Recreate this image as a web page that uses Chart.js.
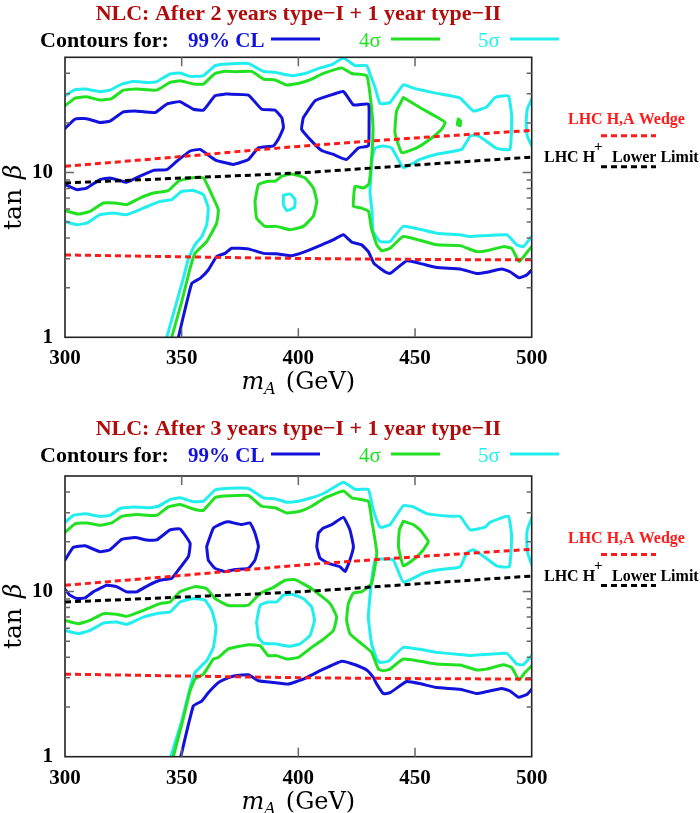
<!DOCTYPE html>
<html>
<head>
<meta charset="utf-8">
<title>NLC contours</title>
<script src="https://cdn.jsdelivr.net/npm/chart.js@4.4.0/dist/chart.umd.min.js"></script>
<style>
  html, body { margin: 0; padding: 0; background: #fff; }
  #wrap { position: relative; width: 700px; height: 813px; overflow: hidden; }
  canvas { position: absolute; left: 0; }
  #topChart { top: 0; }
  #bottomChart { top: 415px; }
</style>
</head>
<body>
<div id="wrap">
  <canvas id="topChart" width="700" height="415"></canvas>
  <canvas id="bottomChart" width="700" height="398"></canvas>
</div>
<script>
// ============================================
// NLC tan(beta) vs m_A contours
// ============================================

// ── Axes ─────────────────────────────────
const xTicks      = [300, 350, 400, 450, 500];
const yTickLabels = [1, 10];
const yMinorTicks = [2, 3, 4, 5, 6, 7, 8, 9, 20, 30, 40];

// ── LHC reference lines (dashed) ─────────
const lhcMass    = [300, 350, 400, 450, 500];
const wedgeHigh  = [10.9, 12.5, 14.4, 16.2, 18.0];
const wedgeLow   = [3.16, 3.08, 3.01, 2.97, 2.95];
const hPlusLimit = [8.64, 9.25, 9.95, 11.1, 12.4];

// ── Legend ───────────────────────────────
const legendNames = ['99% CL', '4σ', '5σ'];
const blueCL  = '#1212dc';
const green4s = '#22e022';
const cyan5s  = '#22eeee';

// ── Top panel: 2 years type-I + 1 year type-II  [mA, tanβ] ──
const top5sMain = [[300,29.2],[304.3,31.8],[308.6,32.1],[315,31.0],[319.3,31.6],[324.3,34.4],[329.3,35.6],[335,35.2],[339.3,35.6],[345,39.6],[349.3,40.2],[353.6,38.3],[359.3,38.7],[364.3,44.5],[369.3,45.6],[378.6,45.9],[385,41.1],[390,40.5],[397.2,38.7],[402.9,39.9],[410,43.4],[414.3,45.1],[419.3,49.5],[424.3,44.5],[429.3,44.5],[430.7,39.6],[432.9,32.8],[435,26.2],[439.3,26.6],[445,34.1],[449.3,32.5],[459.3,30.2],[469.3,28.3],[475,23.6],[480.7,25.0],[484.3,28.5],[490,29.2],[491.4,22.0],[490.7,13.8],[485,14.0],[480,15.7],[476.4,16.9],[473.6,16.6],[470,13.8],[459.3,12.9],[452.1,12.0],[445,10.7],[440,14.1],[436.4,14.5],[432.9,14.1],[431.6,12.1],[430.7,7.6],[431.6,5.8],[432,4.39],[435,3.81],[439.3,3.81],[445,4.71],[459.3,4.28],[469.3,4.19],[473.6,4.09],[489.3,4.19],[493.6,3.64],[496.4,3.55],[500,4.09]];
const top5sLeft = [[300,5.05],[305,4.82],[309.3,4.93],[315,5.55],[320.7,5.67],[326.4,5.55],[333.6,6.08],[340.7,6.68],[345.7,6.84],[350,7.69],[355,7.77],[359.3,7.34],[361.4,6.08],[360.7,4.82],[358.6,4.09],[355.7,3.64],[352.9,3.01],[350.7,2.28],[343.6,1.0]];
const top5sDot   = [[393.6,7.27],[396.4,7.41],[398.6,6.84],[398.3,6.14],[395,5.87],[393.6,6.38],[393.6,7.27]];
const top5sEdge  = [[500,27.9],[498.1,24.2],[497.6,20.1],[498.1,16.6],[500,14.5]];

const top4sMain = [[300,25.4],[304.3,28.3],[309.3,28.8],[315,27.5],[320,28.1],[325,31.6],[330.7,32.1],[339.3,31.6],[345,35.2],[349.3,36.0],[355,34.4],[359.3,34.4],[364.3,39.9],[368.6,41.1],[372.9,40.9],[380,41.1],[385,36.9],[390,36.4],[395,33.9],[400.7,34.9],[405.7,36.9],[410.7,39.9],[418.6,43.1],[422.9,39.9],[429.3,38.7],[430.7,29.9],[432,18.7],[431.3,11.7],[430.2,8.5],[427.9,8.05],[424.3,8.25],[423.6,6.23],[427.1,6.08],[430.1,5.8],[431.3,4.59],[433.6,3.64],[435.7,3.35],[439.3,3.47],[445,4.09],[459.3,3.64],[469.3,3.60],[476.4,3.31],[480.7,3.35],[487.9,3.55],[491.4,3.47],[494.6,2.88],[497.1,3.16],[500,3.55]];
const top4sLeft = [[300,5.87],[305.7,5.59],[310.7,5.81],[316.4,6.53],[321.4,6.53],[326.4,6.38],[332.1,7.0],[337.9,7.51],[344.3,7.77],[348.6,8.85],[353.6,9.27],[359.3,9.27],[362.9,7.34],[365.7,5.95],[365,4.93],[360.7,3.81],[355.7,3.23],[353.6,2.62],[350,1.64],[345.7,1.0]];
const top4sRing = [[381.4,6.68],[382.9,8.45],[387.1,8.85],[390,8.85],[393,9.49],[397.2,9.8],[402.9,9.27],[406.4,8.05],[407.9,6.68],[406.4,5.42],[402.1,4.71],[396.4,4.49],[390.7,4.71],[385.7,4.71],[382.1,5.29],[381.4,6.68]];
const top4sTri  = [[445,28.5],[452.1,24.8],[458.6,22.0],[462.9,20.1],[461.4,18.3],[456.4,15.9],[450.7,14.1],[444.3,13.2],[441.4,17.4],[442.1,23.6],[445,28.5]];
const top4sDot  = [[468.6,21.1],[469.6,20.4],[469.3,19.2],[468.1,19.6],[468.6,21.1]];

const topCLLeft  = [[300,18.5],[304.3,21.1],[309.3,21.2],[315,20.1],[319.3,20.5],[325,23.3],[330,23.6],[338.6,23.1],[343.6,26.0],[349.3,26.9],[355,24.2],[359.3,23.9],[364.3,29.2],[368.6,29.9],[370,29.9],[378.6,29.5],[384.3,24.2],[390,23.9],[392.9,21.5],[393.6,18.7],[391.4,15.9],[389.3,14.5],[382.9,14.1],[378.6,12.0],[372.1,11.2],[364.5,11.9],[357.9,13.8],[353.6,13.5],[347.9,11.7],[343.6,10.4],[337.9,10.3],[332.1,9.49],[326.4,8.73],[319.3,9.27],[315,9.06],[309.3,8.05],[305,7.87],[300,8.45]];
const topCLRight = [[402.1,21.5],[407.1,27.2],[412.9,29.2],[419.3,31.0],[423.6,25.7],[430,26.0],[430.3,19.6],[430,14.5],[425.7,14.1],[420.6,12.0],[414.9,12.9],[410,13.6],[405.7,15.5],[401.4,18.3],[402.1,21.5]];
const topCLLow   = [[348.6,1.0],[354.3,2.12],[357.9,2.28],[361.4,2.56],[365,3.09],[368.6,3.23],[371.4,3.47],[378.6,3.44],[385,3.23],[390.7,3.21],[397.2,3.13],[402.9,3.31],[410,3.64],[414.9,3.90],[419.3,4.19],[422.9,3.78],[427.1,3.64],[430,3.31],[432.5,2.8],[437.1,2.50],[439.3,2.44],[446.4,2.91],[452.1,2.81],[459.3,2.65],[469.3,2.60],[476.4,2.44],[480.7,2.48],[487.1,2.60],[490.7,2.50],[494.6,2.30],[497.9,2.39],[500,2.56]];

// ── Bottom panel: 3 years type-I + 1 year type-II  [mA, tanβ] ──
const bot5sMain = [[300,26.2],[303.6,28.9],[308.6,29.5],[315,28.5],[319.3,28.9],[323.6,31.8],[329.3,32.5],[335.7,32.1],[340,32.8],[345,36.0],[349.3,36.9],[355,34.9],[359.3,35.2],[364.3,41.1],[368.6,42.0],[378.6,42.0],[385,36.9],[390,36.4],[395,34.7],[400,35.2],[405.7,36.9],[411.4,39.6],[419.3,45.9],[424.3,41.5],[430,41.5],[430.7,38.5],[432.1,31.3],[435,24.5],[439.3,25.4],[445,33.1],[449.3,32.5],[455,29.6],[465,28.5],[469.3,28.5],[473.6,23.6],[480,24.5],[482.1,26.2],[490,28.5],[491.4,21.5],[490.4,14.1],[485,14.3],[480,16.1],[475,17.9],[472.1,17.1],[469.3,14.1],[459.3,13.5],[453.6,12.9],[445,11.4],[440.7,15.5],[435.7,15.7],[432.9,15.5],[431.4,11.7],[430,7.0],[431.4,4.82],[433.6,3.90],[435,3.72],[438.6,3.78],[445,4.59],[459.3,4.28],[469.3,4.15],[473.6,4.09],[489.3,4.22],[493.6,3.64],[496.4,3.60],[500,4.09]];
const bot5sLeft = [[300,5.81],[305.7,5.55],[310.7,5.81],[316.4,6.44],[322.1,6.53],[326.4,6.32],[333.6,7.0],[340.7,7.41],[345,7.51],[349.3,8.64],[355,9.06],[360,8.85],[362.9,7.69],[364.7,6.08],[363.6,4.59],[360.7,3.81],[355.7,3.23],[353.6,2.62],[350,1.64],[345.3,1.0]];
const bot5sRing = [[382.1,6.53],[383.6,8.26],[387.1,8.64],[390.7,8.64],[393.6,9.5],[397.2,9.63],[402.1,9.06],[405.7,8.05],[406.9,6.68],[405,5.42],[400.7,4.82],[396.4,4.66],[390,4.82],[385,4.86],[382.9,5.29],[382.1,6.53]];
const bot5sEdge = [[500,27.9],[498.1,23.6],[497.9,20.1],[498.3,17.1],[500,14.5]];

const bot4sMain = [[300,22.8],[304.3,25.7],[309.3,26.0],[315,25.2],[320,26.0],[324.3,28.5],[330.7,29.2],[339.3,28.9],[344.3,32.5],[349.3,33.6],[355,31.6],[359.3,31.0],[364.3,36.9],[368.6,37.8],[378.6,38.1],[384.3,32.8],[390,32.1],[395,29.9],[400.7,30.6],[405.7,32.8],[411.4,36.9],[419.3,40.5],[422.9,36.9],[430,35.2],[431.4,27.2],[433.6,17.1],[431.4,11.2],[427.1,9.95],[423.6,9.8],[421.4,8.45],[420.7,6.68],[422.1,5.55],[427.1,4.82],[431.4,4.28],[434.3,3.39],[436.4,3.31],[439.3,3.39],[445,3.90],[459.3,3.64],[469.3,3.59],[476.4,3.35],[480.7,3.39],[487.9,3.60],[491.4,3.47],[494.6,2.91],[497.1,3.23],[500,3.55]];
const bot4sLeft = [[300,6.68],[305.7,6.38],[310.7,6.68],[316.4,7.34],[322.1,7.27],[326.4,7.07],[333.6,7.69],[340.7,8.45],[345,8.64],[349.3,9.95],[355.7,10.7],[360.7,10.4],[364.3,9.06],[370,8.22],[378.6,8.26],[383.6,9.73],[389.3,10.6],[394.3,11.7],[398.6,11.8],[405.7,10.4],[413.6,8.45],[416.4,7.0],[415,5.81],[410,5.05],[405.7,4.59],[400,3.99],[395,3.90],[390.7,4.09],[387.1,4.09],[383.6,4.70],[378.6,4.76],[370,4.49],[365.7,3.99],[363.6,3.90],[359.3,3.16],[355.7,2.95],[353.6,2.50],[350,1.56],[346.4,1.0]];
const bot4sTri  = [[445,26.6],[449.3,25.4],[452.1,23.6],[455.7,20.1],[453.6,17.9],[450,15.9],[445,14.3],[442.9,18.7],[443.3,23.6],[445,26.6]];

const botCLLeft  = [[300,15.5],[303.6,18.5],[308.6,18.9],[315,17.4],[319.3,17.9],[324.3,20.7],[330,21.2],[335,20.5],[339.3,20.5],[345,23.6],[349.3,23.9],[353.6,19.6],[352.9,16.3],[348.6,13.5],[345.7,12.0],[340.7,11.7],[335.7,10.9],[330.7,9.95],[326.4,9.95],[322.1,10.7],[317.9,10.9],[312.1,9.95],[308.6,9.14],[305,9.06],[302.1,9.5],[300,10.3]];
const botCLMid   = [[360.7,18.7],[363.6,24.2],[367.9,26.0],[370,26.4],[375.7,25.4],[379.3,26.0],[381.4,22.6],[382.9,18.7],[381.4,15.5],[378.6,13.8],[372.9,13.6],[368.6,13.2],[364.3,13.8],[361.4,15.5],[360.7,18.7]];
const botCLRight = [[408.6,22.6],[410.7,24.2],[414.3,25.4],[419.3,28.1],[422.1,23.6],[423.6,18.7],[422.1,15.5],[420,13.2],[417.9,14.1],[412.9,14.8],[409.3,15.9],[407.9,18.7],[408.6,22.6]];
const botCLLow   = [[349.6,1.0],[355,2.03],[358.6,2.17],[361.4,2.44],[365.7,2.81],[368.6,2.95],[372.9,3.09],[378.6,3.13],[382.9,2.88],[389.3,2.81],[395.7,2.75],[402.1,2.95],[410,3.35],[418.6,3.78],[424.3,3.60],[429.3,3.35],[432.1,3.02],[433.6,2.75],[436.4,2.41],[439.3,2.44],[446.4,2.85],[452.1,2.77],[459.3,2.62],[469.3,2.56],[476.4,2.41],[480.7,2.48],[487.1,2.59],[490.7,2.50],[494.3,2.29],[497.9,2.38],[500,2.56]];

// ── Dataset helpers ──────────────────────
const toPoints = arr => arr.map(([x, y]) => ({ x, y }));

function contour(arr, color) {
    return {
        data: toPoints(arr), showLine: true, borderColor: color, borderWidth: 3,
        pointRadius: 0, tension: 0.12, borderJoinStyle: 'round', borderCapStyle: 'round', order: 2
    };
}
function lhcLine(ys, color) {
    return {
        data: lhcMass.map((x, i) => ({ x, y: ys[i] })), showLine: true, borderColor: color,
        borderWidth: 3, borderDash: [6, 4], pointRadius: 0, cubicInterpolationMode: 'monotone', order: 1
    };
}

// ── Decorations: frame, inner ticks, titles, legend, LHC labels ──
const decor = {
    id: 'decor',
    afterDraw(chart, args, opts) {
        const { ctx, chartArea: a, scales: { x, y } } = chart;
        ctx.save();

        // frame
        ctx.strokeStyle = '#222';
        ctx.lineWidth = 1.6;
        ctx.strokeRect(a.left, a.top, a.right - a.left, a.bottom - a.top);

        // inward ticks
        ctx.strokeStyle = '#666';
        ctx.lineWidth = 1.5;
        ctx.beginPath();
        yMinorTicks.forEach(v => {
            const py = y.getPixelForValue(v);
            ctx.moveTo(a.left, py);  ctx.lineTo(a.left + 5, py);
            ctx.moveTo(a.right, py); ctx.lineTo(a.right - 5, py);
        });
        yTickLabels.forEach(v => {
            const py = y.getPixelForValue(v);
            if (py >= a.bottom - 1) return;
            ctx.moveTo(a.left, py);  ctx.lineTo(a.left + 9, py);
            ctx.moveTo(a.right, py); ctx.lineTo(a.right - 9, py);
        });
        xTicks.forEach(v => {
            const px = x.getPixelForValue(v);
            if (px <= a.left + 1 || px >= a.right - 1) return;
            ctx.moveTo(px, a.bottom); ctx.lineTo(px, a.bottom - 9);
            ctx.moveTo(px, a.top);    ctx.lineTo(px, a.top + 9);
        });
        ctx.stroke();

        // y title: tan β
        ctx.save();
        ctx.translate(14, (a.top + a.bottom) / 2);
        ctx.rotate(-Math.PI / 2);
        ctx.fillStyle = '#000';
        ctx.textBaseline = 'middle';
        ctx.font = '25px "DejaVu Serif"';
        const wTan = ctx.measureText('tan').width;
        ctx.font = 'italic 25px "DejaVu Serif"';
        const wBeta = ctx.measureText('β').width;
        const gap = 10;
        const sx = -(wTan + gap + wBeta) / 2;
        ctx.textAlign = 'left';
        ctx.font = '25px "DejaVu Serif"';
        ctx.fillText('tan', sx, 0);
        ctx.font = 'italic 25px "DejaVu Serif"';
        ctx.fillText('β', sx + wTan + gap, 0);
        ctx.restore();

        // x title: m_A (GeV)
        const cx = (a.left + a.right) / 2;
        const by = a.bottom + 52;
        ctx.textAlign = 'left';
        ctx.textBaseline = 'alphabetic';
        ctx.fillStyle = '#000';
        ctx.font = 'italic 24px "DejaVu Serif"';
        const wm = ctx.measureText('m').width;
        ctx.font = 'italic 16px "DejaVu Serif"';
        const wA = ctx.measureText('A').width;
        ctx.font = '24px "DejaVu Serif"';
        const wG = ctx.measureText('(GeV)').width;
        const total = wm + wA + 10 + wG;
        const tx = cx - total / 2;
        ctx.font = 'italic 24px "DejaVu Serif"';
        ctx.fillText('m', tx, by);
        ctx.font = 'italic 16px "DejaVu Serif"';
        ctx.fillText('A', tx + wm, by + 5);
        ctx.font = '24px "DejaVu Serif"';
        ctx.fillText('(GeV)', tx + wm + wA + 10, by);

        // panel title
        ctx.textAlign = 'center';
        ctx.fillStyle = '#b00c0c';
        ctx.font = 'bold 22px "Liberation Serif"';
        ctx.fillText(opts.title, cx, 20);

        // legend row
        ctx.textAlign = 'left';
        ctx.fillStyle = '#000';
        ctx.font = 'bold 22px "Liberation Serif"';
        ctx.fillText('Contours for:', 40, 47);
        const legendItems = [
            { text: legendNames[0], color: blueCL,  font: 'bold 21px "Liberation Serif"', tx: 188, x0: 271 },
            { text: legendNames[1], color: green4s, font: '21px "Liberation Serif"',      tx: 359, x0: 391 },
            { text: legendNames[2], color: cyan5s,  font: '21px "Liberation Serif"',      tx: 478, x0: 510 }
        ];
        legendItems.forEach(it => {
            ctx.fillStyle = it.color;
            ctx.font = it.font;
            ctx.fillText(it.text, it.tx, 47);
            ctx.strokeStyle = it.color;
            ctx.lineWidth = 3;
            ctx.setLineDash([]);
            ctx.beginPath();
            ctx.moveTo(it.x0, 39); ctx.lineTo(it.x0 + 49, 39);
            ctx.stroke();
        });

        // LHC labels at right
        ctx.fillStyle = '#ff1a1a';
        ctx.font = 'bold 16px "Liberation Serif"';
        ctx.fillText('LHC H,A Wedge', 568, a.top + 67);
        ctx.fillStyle = '#000';
        ctx.fillText('LHC H', 544, a.top + 104.5);
        ctx.fillText('Lower Limit', 612, a.top + 104.5);
        ctx.font = 'bold 15px "Liberation Serif"';
        ctx.fillText('+', 594, a.top + 94);

        ctx.lineWidth = 3;
        ctx.setLineDash([6, 4]);
        ctx.strokeStyle = '#ff1a1a';
        ctx.beginPath(); ctx.moveTo(601, a.top + 78.5); ctx.lineTo(656, a.top + 78.5); ctx.stroke();
        ctx.strokeStyle = '#000';
        ctx.beginPath(); ctx.moveTo(601, a.top + 109.5); ctx.lineTo(656, a.top + 109.5); ctx.stroke();
        ctx.restore();
    }
};

// ── Chart factory ────────────────────────
// y axis box is 65px wide, x axis box 40px high; padding places the plot frame
function buildPanel(canvasId, title, padTop, padBottom, lines) {
    return new Chart(document.getElementById(canvasId), {
        type: 'scatter',
        data: {
            datasets: [
                lhcLine(wedgeHigh, '#ff1a1a'),
                lhcLine(wedgeLow, '#ff1a1a'),
                lhcLine(hPlusLimit, '#000'),
                ...lines
            ]
        },
        options: {
            responsive: false,
            animation: false,
            devicePixelRatio: 1,
            layout: { padding: { left: 0, right: 168.3, top: padTop, bottom: padBottom - 40 } },
            plugins: {
                legend: { display: false },
                tooltip: { enabled: false },
                decor: { title }
            },
            scales: {
                x: {
                    type: 'linear', min: 300, max: 500,
                    afterBuildTicks: s => { s.ticks = xTicks.map(v => ({ value: v })); },
                    afterFit: s => { s.height = 40; },
                    grid: { display: false, drawTicks: false },
                    border: { display: false },
                    ticks: {
                        color: '#000', padding: 9, maxRotation: 0, autoSkip: false,
                        font: { family: 'Liberation Serif', size: 21, weight: 'bold' },
                        callback: v => v
                    }
                },
                y: {
                    type: 'logarithmic', min: 1, max: 50,
                    afterBuildTicks: s => { s.ticks = yTickLabels.map(v => ({ value: v })); },
                    afterFit: s => { s.width = 65; },
                    grid: { display: false, drawTicks: false },
                    border: { display: false },
                    ticks: {
                        color: '#000', padding: 12, autoSkip: false,
                        font: { family: 'Liberation Serif', size: 21, weight: 'bold' },
                        callback: v => v
                    }
                }
            }
        },
        plugins: [decor]
    });
}

buildPanel('topChart', 'NLC: After 2 years type\u2212I + 1 year type\u2212II', 57.3, 77.7, [
    contour(topCLLeft, blueCL), contour(topCLRight, blueCL), contour(topCLLow, blueCL),
    contour(top4sMain, green4s), contour(top4sLeft, green4s), contour(top4sRing, green4s),
    contour(top4sTri, green4s), contour(top4sDot, green4s),
    contour(top5sMain, cyan5s), contour(top5sLeft, cyan5s), contour(top5sDot, cyan5s), contour(top5sEdge, cyan5s)
]);

buildPanel('bottomChart', 'NLC: After 3 years type\u2212I + 1 year type\u2212II', 61, 56.3, [
    contour(botCLLeft, blueCL), contour(botCLMid, blueCL), contour(botCLRight, blueCL), contour(botCLLow, blueCL),
    contour(bot4sMain, green4s), contour(bot4sLeft, green4s), contour(bot4sTri, green4s),
    contour(bot5sMain, cyan5s), contour(bot5sLeft, cyan5s), contour(bot5sRing, cyan5s), contour(bot5sEdge, cyan5s)
]);
</script>
</body>
</html>
